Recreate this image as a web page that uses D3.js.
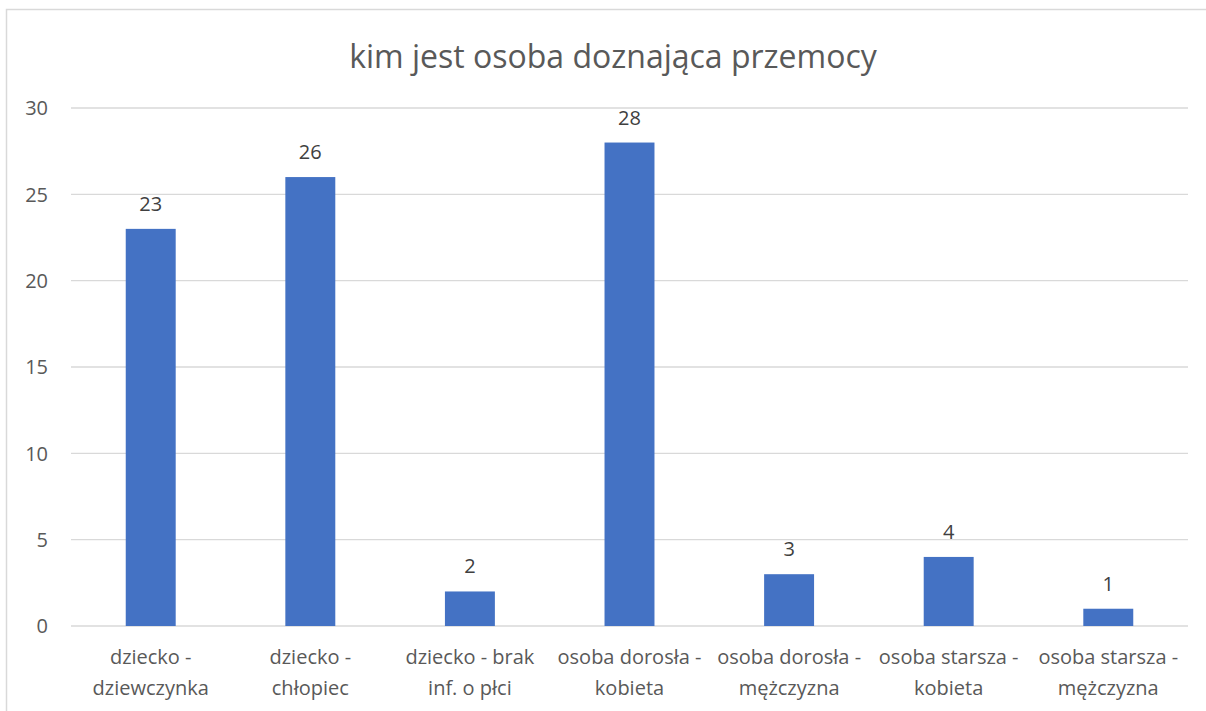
<!DOCTYPE html>
<html>
<head>
<meta charset="utf-8">
<script src="https://cdn.jsdelivr.net/npm/d3@7"></script>
<style>
  body { margin: 0; background: #fff; }
  text { font-family: "Open Sans", "Noto Sans", sans-serif; }
</style>
</head>
<body>
<script>
// chart data
var categories = [
  ["dziecko -", "dziewczynka"],
  ["dziecko -", "chłopiec"],
  ["dziecko - brak", "inf. o płci"],
  ["osoba dorosła -", "kobieta"],
  ["osoba dorosła -", "mężczyzna"],
  ["osoba starsza -", "kobieta"],
  ["osoba starsza -", "mężczyzna"]
];
var values = [23, 26, 2, 28, 3, 4, 1];
var yTicks = [0, 5, 10, 15, 20, 25, 30];
var title = "kim jest osoba doznająca przemocy";

var width = 1206, height = 711;
var plotLeft = 71, plotRight = 1188, plotTop = 108, plotBottom = 626;

var svg = d3.select("body")
    .append("svg")
    .attr("width", width)
    .attr("height", height);

// outer frame
svg.append("rect")
    .attr("x", 6.5)
    .attr("y", 9.5)
    .attr("width", 1205)
    .attr("height", 710)
    .attr("fill", "none")
    .attr("stroke", "#d9d9d9")
    .attr("stroke-width", 1.5);

var x = d3.scaleBand()
    .domain(d3.range(categories.length))
    .range([plotLeft, plotRight])
    .paddingInner(0.687)
    .paddingOuter(0.343);

var y = d3.scaleLinear()
    .domain([0, 30])
    .range([plotBottom, plotTop]);

// gridlines
svg.selectAll("line.grid")
    .data(yTicks).enter()
    .append("line")
    .attr("class", "grid")
    .attr("x1", plotLeft)
    .attr("x2", plotRight)
    .attr("y1", function(d){ return y(d); })
    .attr("y2", function(d){ return y(d); })
    .attr("stroke", "#d9d9d9")
    .attr("stroke-width", 1.3);

// y tick labels
svg.selectAll("text.ytick")
    .data(yTicks).enter()
    .append("text")
    .attr("class", "ytick")
    .attr("x", 48)
    .attr("y", function(d){ return y(d); })
    .attr("dy", "0.36em")
    .attr("text-anchor", "end")
    .attr("font-size", "20px")
    .attr("fill", "#595959")
    .text(function(d){ return d; });

// bars
svg.selectAll("rect.bar")
    .data(values).enter()
    .append("rect")
    .attr("class", "bar")
    .attr("x", function(d, i){ return x(i); })
    .attr("width", x.bandwidth())
    .attr("y", function(d){ return y(d); })
    .attr("height", function(d){ return y(0) - y(d); })
    .attr("fill", "#4472c4");

// value labels
svg.selectAll("text.val")
    .data(values).enter()
    .append("text")
    .attr("class", "val")
    .attr("x", function(d, i){ return x(i) + x.bandwidth() / 2; })
    .attr("y", function(d){ return y(d) - 18; })
    .attr("text-anchor", "middle")
    .attr("font-size", "20px")
    .attr("fill", "#404040")
    .text(function(d){ return d; });

// category labels
var catText = svg.selectAll("text.cat")
    .data(categories).enter()
    .append("text")
    .attr("class", "cat")
    .attr("text-anchor", "middle")
    .attr("font-size", "20px")
    .attr("fill", "#595959");

catText.selectAll("tspan")
    .data(function(d, i){ return d.map(function(s){ return { s: s, i: i }; }); })
    .enter().append("tspan")
    .attr("x", function(d){ return x(d.i) + x.bandwidth() / 2; })
    .attr("y", function(d, j){ return 664 + j * 31; })
    .text(function(d){ return d.s; });

// title
svg.append("text")
    .attr("x", 613)
    .attr("y", 68)
    .attr("text-anchor", "middle")
    .attr("font-size", "32px")
    .attr("fill", "#595959")
    .text(title);
</script>
</body>
</html>
